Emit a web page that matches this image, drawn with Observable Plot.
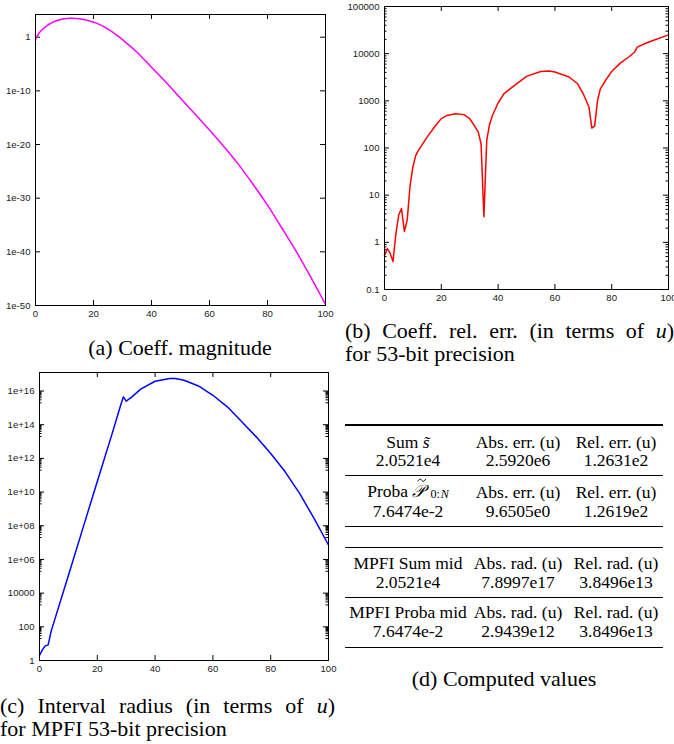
<!DOCTYPE html>
<html><head><meta charset="utf-8">
<script src="https://cdn.jsdelivr.net/npm/d3@7"></script>
<script src="https://cdn.jsdelivr.net/npm/@observablehq/plot@0.6"></script>
<style>
html,body{margin:0;padding:0;background:#fff;}
#root{position:relative;width:674px;height:744px;overflow:hidden;font-family:"Liberation Serif","Times New Roman",serif;color:#000;}
.plot{position:absolute;}
.cap{position:absolute;font-size:22px;line-height:23px;white-space:nowrap;}
.just{text-align:justify;text-align-last:justify;white-space:normal;}
.rule{position:absolute;background:#000;left:345px;width:318px;}
.cell{position:absolute;font-size:17.5px;line-height:15px;text-align:center;transform:translate(-50%,-50%);white-space:nowrap;}
.accP{position:relative;display:inline-block;line-height:1;}
.accP svg{position:absolute;left:5px;top:-5px;overflow:visible;}
.sub{font-size:12px;position:relative;top:1px;margin-left:5px;line-height:0;}
.sub i{margin-left:1px;}
</style></head>
<body><div id="root"></div>
<script>
// ---------- data ----------
const xTicks = [0, 20, 40, 60, 80, 100];

// (a) coefficient magnitude
const magK   = [0, 1, 2, 3, 4, 5, 6, 8, 10, 12, 14, 16, 18, 20, 22, 25, 28, 30, 35, 40, 45, 50, 55, 60, 65, 70, 75, 80, 85, 90, 95, 100];
const magVal = [3.7e-1, 4.0e0, 1.8e1, 5.6e1, 1.4e2, 3.2e2, 6.3e2, 1.6e3, 2.8e3, 3.5e3, 3.2e3, 2.2e3, 1.3e3, 6.3e2, 2.5e2, 3.2e1, 2.5e0, 3.5e-1,
                1.6e-3, 2.5e-6, 4.0e-9, 4.0e-12, 5.0e-15, 5.0e-18, 4.0e-21, 2.0e-24, 4.0e-28, 5.0e-32, 2.5e-36, 1.0e-40, 1.6e-45, 1.6e-50];
const magTicks = [1e-50, 1e-40, 1e-30, 1e-20, 1e-10, 1];
const magTickLabels = ["1e-50", "1e-40", "1e-30", "1e-20", "1e-10", "1"];

// (b) coefficient relative error
const relK   = [0, 1, 2, 3, 4, 5, 6, 7, 8, 9, 10, 11, 12, 15, 18, 20, 22, 25, 28, 30, 32, 33, 34, 35, 36, 37, 38, 40, 42, 45, 50, 55, 58, 60,
                65, 68, 70, 72, 73, 74, 75, 76, 78, 80, 83, 86, 88, 89, 92, 95, 100];
const relVal = [0.53, 0.74, 0.58, 0.39, 1.5, 3.8, 5.2, 1.7, 3.0, 16, 40, 70, 90, 170, 300, 420, 490, 535, 510, 420, 275, 220, 123, 3.5, 145, 320, 490,
                900, 1400, 1950, 3300, 4200, 4270, 4100, 3200, 2300, 1400, 740, 265, 290, 1000, 1800, 2800, 4200, 6300, 8500, 10700, 13800, 16600, 19500, 25000];
const relTicks = [0.1, 1, 10, 100, 1000, 10000, 100000];
const relTickLabels = ["0.1", "1", "10", "100", "1000", "10000", "100000"];

// (c) interval radius
const radK   = [0, 1, 2, 3, 4, 5, 10, 15, 20, 25, 28, 29, 30, 32, 35, 40, 45, 47, 50, 55, 60, 65, 70, 75, 80, 85, 90, 95, 100];
const radVal = [2, 4.3, 7.4, 8.5, 52, 190, 1.1e5, 7.0e7, 4.3e10, 2.5e13, 1.3e15, 4.5e15, 2.5e15, 4.5e15, 1.3e16, 3.8e16, 5.5e16, 5.5e16, 4.4e16,
                2.0e16, 5.6e15, 1.15e15, 1.5e14, 1.9e13, 1.95e12, 1.6e11, 8.3e9, 2.75e8, 7.2e6];
const radTicks = [1, 1e2, 1e4, 1e6, 1e8, 1e10, 1e12, 1e14, 1e16];
const radTickLabels = ["1", "100", "10000", "1e+06", "1e+08", "1e+10", "1e+12", "1e+14", "1e+16"];

// (d) table
const tildeSvg = '<svg width="9" height="4"><path d="M0.5,3.2 C2,0.3 4,0.5 4.5,2 S7,3.8 8.5,0.8" fill="none" stroke="#000" stroke-width="1"/></svg>';
const tHead1 = ["Sum <i>s\u0303</i>", "Abs. err. (u)", "Rel. err. (u)"];
const tVal1  = ["2.0521e4", "2.5920e6", "1.2631e2"];
const tHead2 = ['Proba <i class="accP">\u{1D4AB}' + tildeSvg + '</i><span class="sub">0:<i>N</i></span>', "Abs. err. (u)", "Rel. err. (u)"];
const tVal2  = ["7.6474e-2", "9.6505e0", "1.2619e2"];
const tHead3 = ["MPFI Sum mid", "Abs. rad. (u)", "Rel. rad. (u)"];
const tVal3  = ["2.0521e4", "7.8997e17", "3.8496e13"];
const tHead4 = ["MPFI Proba mid", "Abs. rad. (u)", "Rel. rad. (u)"];
const tVal4  = ["7.6474e-2", "2.9439e12", "3.8496e13"];

// ---------- drawing ----------
const root = document.getElementById("root");

function minorsFor(decades, ks, lo, hi) {
  const out = [];
  for (const d of decades) for (const k of ks) { const v = k * d; if (v > lo && v < hi) out.push(v); }
  return out;
}

function panel(o) {
  const data = o.xs.map((x, i) => ({x, y: o.ys[i]}));
  const iw = o.width - o.ml - o.mr, ih = o.height - o.mt - o.mb;
  const M = 5, m = 2.5;
  const svg = Plot.plot({
    width: o.width, height: o.height,
    marginLeft: o.ml, marginRight: o.mr, marginTop: o.mt, marginBottom: o.mb,
    style: {fontFamily: "'Liberation Sans', Arial, sans-serif", fontSize: "9.6px", color: "#222", background: "transparent", overflow: "visible"},
    x: {domain: [0, 100]},
    y: {type: "log", domain: o.yDomain},
    marks: [
      Plot.axisX({ticks: xTicks, tickFormat: d => String(d), tickSize: 0, tickPadding: 5, label: null}),
      Plot.axisY({ticks: o.majors, tickFormat: d => o.labels[o.majors.indexOf(d)], tickSize: 0, tickPadding: 5, label: null}),
      Plot.tickY(o.majors, {y: d => d, insetRight: iw - M, stroke: "#000"}),
      Plot.tickY(o.majors, {y: d => d, insetLeft: iw - M, stroke: "#000"}),
      Plot.tickY(o.minors, {y: d => d, insetRight: iw - m, stroke: "#000"}),
      Plot.tickY(o.minors, {y: d => d, insetLeft: iw - m, stroke: "#000"}),
      Plot.tickX(xTicks, {x: d => d, insetTop: ih - M, stroke: "#000"}),
      Plot.tickX(xTicks, {x: d => d, insetBottom: ih - M, stroke: "#000"}),
      Plot.line(data, {x: "x", y: "y", stroke: o.color, strokeWidth: 1.5, curve: o.curve || "linear"}),
      Plot.frame({stroke: "#000"})
    ]
  });
  svg.classList.add("plot");
  svg.style.position = "absolute";
  svg.style.left = o.left + "px";
  svg.style.top = o.top + "px";
  svg.style.maxWidth = "none";
  root.appendChild(svg);
}

panel({xs: magK, ys: magVal, color: "#ff00ff", yDomain: [1e-50, Math.pow(10, 4.23)], curve: "catmull-rom",
  majors: magTicks, labels: magTickLabels, minors: [],
  left: 0, top: 0, width: 340, height: 330, ml: 35, mr: 15, mt: 14, mb: 25});

panel({xs: relK, ys: relVal, color: "#ff0000", yDomain: [0.1, 1e5],
  majors: relTicks, labels: relTickLabels,
  minors: minorsFor([0.1, 1, 10, 100, 1000, 10000], [2,3,4,5,6,7,8,9], 0.1, 1e5),
  left: 330, top: 0, width: 344, height: 310, ml: 54, mr: 6, mt: 6, mb: 21});

panel({xs: radK, ys: radVal, color: "#0000ff", yDomain: [1, Math.pow(10, 17.1)],
  majors: radTicks, labels: radTickLabels,
  minors: minorsFor([1e1, 1e3, 1e5, 1e7, 1e9, 1e11, 1e13, 1e15, 1e17], [2,3,4,5,6,7,8,9], 1, Math.pow(10, 17.1)),
  left: 0, top: 365, width: 340, height: 315, ml: 39, mr: 12, mt: 7, mb: 20});

// captions
function addDiv(cls, html, style) {
  const d = document.createElement("div");
  d.className = cls; d.innerHTML = html;
  Object.assign(d.style, style);
  root.appendChild(d);
  return d;
}
addDiv("cap", "(a) Coeff. magnitude", {left: "10px", width: "340px", textAlign: "center", top: (347 - 11.5) + "px"});
addDiv("cap just", "(b) Coeff. rel. err. (in terms of <i>u</i>)", {left: "345px", width: "329px", top: (330 - 11.5) + "px"});
addDiv("cap", "for 53-bit precision", {left: "345px", top: (353 - 11.5) + "px"});
addDiv("cap just", "(c) Interval radius (in terms of <i>u</i>)", {left: "0px", width: "335px", top: (705 - 11.5) + "px"});
addDiv("cap", "for MPFI 53-bit precision", {left: "0px", top: (728 - 11.5) + "px"});
addDiv("cap", "(d) Computed values", {left: "345px", width: "318px", textAlign: "center", top: (678 - 11.5) + "px"});

// table
const colX = [408, 518, 616];
const rows = [[tHead1, tVal1, 441.7, 460], [tHead2, tVal2, 492, 511], [tHead3, tVal3, 563.3, 581.7], [tHead4, tVal4, 612.3, 630.7]];
for (const [h, v, y1, y2] of rows) {
  h.forEach((t, i) => addDiv("cell", t, {left: colX[i] + "px", top: y1 + "px"}));
  v.forEach((t, i) => addDiv("cell", t, {left: colX[i] + "px", top: y2 + "px"}));
}
const rules = [[425, 1.6], [475, 0.9], [526.7, 1.6], [547.3, 1.6], [597.3, 0.9], [647.3, 1.6]];
for (const [y, w] of rules) addDiv("rule", "", {top: (y - w / 2) + "px", height: w + "px"});
</script>
</body></html>
